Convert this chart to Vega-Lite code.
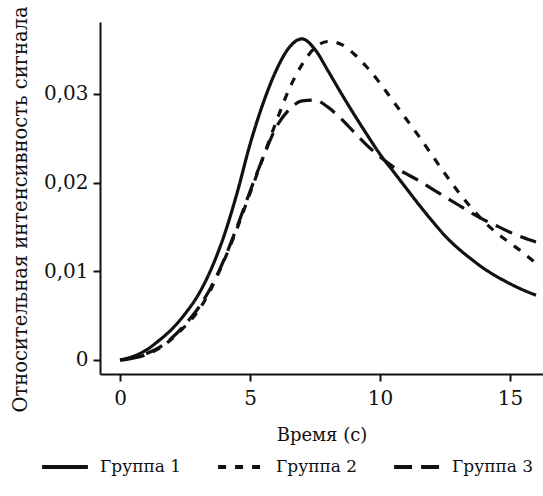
{
  "$schema": "https://vega.github.io/schema/vega-lite/v6.json",
  "width": 443,
  "height": 352,
  "autosize": {"type": "none"},
  "padding": {"left": 100, "top": 22, "right": 0, "bottom": 122},
  "background": "white",
  "config": {
    "view": {"stroke": null},
    "axis": {
      "grid": false,
      "domainColor": "#111",
      "domainWidth": 2,
      "tickColor": "#111",
      "tickWidth": 2,
      "tickSize": 7,
      "labelFont": "DejaVu Serif",
      "labelFontSize": 20,
      "labelColor": "#111",
      "titleFont": "DejaVu Serif",
      "titleFontSize": 18,
      "titleFontWeight": "normal",
      "titleColor": "#111"
    },
    "legend": {
      "labelFont": "DejaVu Serif",
      "labelFontSize": 17,
      "labelColor": "#111"
    }
  },
  "data": {
    "values": [
      {"t": 0, "v": 0, "g": "Группа 1"},
      {"t": 0.5, "v": 0.0004, "g": "Группа 1"},
      {"t": 1, "v": 0.0011, "g": "Группа 1"},
      {"t": 1.5, "v": 0.0022, "g": "Группа 1"},
      {"t": 2, "v": 0.0035, "g": "Группа 1"},
      {"t": 2.5, "v": 0.0052, "g": "Группа 1"},
      {"t": 3, "v": 0.0073, "g": "Группа 1"},
      {"t": 3.5, "v": 0.0102, "g": "Группа 1"},
      {"t": 4, "v": 0.0140, "g": "Группа 1"},
      {"t": 4.5, "v": 0.0188, "g": "Группа 1"},
      {"t": 5, "v": 0.0243, "g": "Группа 1"},
      {"t": 5.5, "v": 0.0289, "g": "Группа 1"},
      {"t": 6, "v": 0.0326, "g": "Группа 1"},
      {"t": 6.5, "v": 0.0352, "g": "Группа 1"},
      {"t": 7, "v": 0.0362, "g": "Группа 1"},
      {"t": 7.5, "v": 0.0350, "g": "Группа 1"},
      {"t": 8, "v": 0.0326, "g": "Группа 1"},
      {"t": 8.5, "v": 0.0301, "g": "Группа 1"},
      {"t": 9, "v": 0.0277, "g": "Группа 1"},
      {"t": 9.5, "v": 0.0254, "g": "Группа 1"},
      {"t": 10, "v": 0.0232, "g": "Группа 1"},
      {"t": 10.5, "v": 0.0213, "g": "Группа 1"},
      {"t": 11, "v": 0.0194, "g": "Группа 1"},
      {"t": 11.5, "v": 0.0175, "g": "Группа 1"},
      {"t": 12, "v": 0.0157, "g": "Группа 1"},
      {"t": 12.5, "v": 0.0140, "g": "Группа 1"},
      {"t": 13, "v": 0.0126, "g": "Группа 1"},
      {"t": 13.5, "v": 0.0114, "g": "Группа 1"},
      {"t": 14, "v": 0.0103, "g": "Группа 1"},
      {"t": 14.5, "v": 0.0094, "g": "Группа 1"},
      {"t": 15, "v": 0.0086, "g": "Группа 1"},
      {"t": 15.5, "v": 0.0079, "g": "Группа 1"},
      {"t": 16, "v": 0.0073, "g": "Группа 1"},
      {"t": 0, "v": 0, "g": "Группа 2"},
      {"t": 0.5, "v": 0.0002, "g": "Группа 2"},
      {"t": 1, "v": 0.0006, "g": "Группа 2"},
      {"t": 1.5, "v": 0.0013, "g": "Группа 2"},
      {"t": 2, "v": 0.0024, "g": "Группа 2"},
      {"t": 2.5, "v": 0.0038, "g": "Группа 2"},
      {"t": 3, "v": 0.0055, "g": "Группа 2"},
      {"t": 3.5, "v": 0.0080, "g": "Группа 2"},
      {"t": 4, "v": 0.0112, "g": "Группа 2"},
      {"t": 4.5, "v": 0.0148, "g": "Группа 2"},
      {"t": 5, "v": 0.0188, "g": "Группа 2"},
      {"t": 5.5, "v": 0.0228, "g": "Группа 2"},
      {"t": 6, "v": 0.0268, "g": "Группа 2"},
      {"t": 6.5, "v": 0.0305, "g": "Группа 2"},
      {"t": 7, "v": 0.0333, "g": "Группа 2"},
      {"t": 7.5, "v": 0.0352, "g": "Группа 2"},
      {"t": 8, "v": 0.0359, "g": "Группа 2"},
      {"t": 8.5, "v": 0.0356, "g": "Группа 2"},
      {"t": 9, "v": 0.0345, "g": "Группа 2"},
      {"t": 9.5, "v": 0.0330, "g": "Группа 2"},
      {"t": 10, "v": 0.0312, "g": "Группа 2"},
      {"t": 10.5, "v": 0.0292, "g": "Группа 2"},
      {"t": 11, "v": 0.0272, "g": "Группа 2"},
      {"t": 11.5, "v": 0.0252, "g": "Группа 2"},
      {"t": 12, "v": 0.0231, "g": "Группа 2"},
      {"t": 12.5, "v": 0.0210, "g": "Группа 2"},
      {"t": 13, "v": 0.0190, "g": "Группа 2"},
      {"t": 13.5, "v": 0.0172, "g": "Группа 2"},
      {"t": 14, "v": 0.0156, "g": "Группа 2"},
      {"t": 14.5, "v": 0.0143, "g": "Группа 2"},
      {"t": 15, "v": 0.0132, "g": "Группа 2"},
      {"t": 15.5, "v": 0.0121, "g": "Группа 2"},
      {"t": 16, "v": 0.0109, "g": "Группа 2"},
      {"t": 0, "v": 0, "g": "Группа 3"},
      {"t": 0.5, "v": 0.0002, "g": "Группа 3"},
      {"t": 1, "v": 0.0007, "g": "Группа 3"},
      {"t": 1.5, "v": 0.0014, "g": "Группа 3"},
      {"t": 2, "v": 0.0025, "g": "Группа 3"},
      {"t": 2.5, "v": 0.0040, "g": "Группа 3"},
      {"t": 3, "v": 0.0058, "g": "Группа 3"},
      {"t": 3.5, "v": 0.0082, "g": "Группа 3"},
      {"t": 4, "v": 0.0113, "g": "Группа 3"},
      {"t": 4.5, "v": 0.0150, "g": "Группа 3"},
      {"t": 5, "v": 0.0190, "g": "Группа 3"},
      {"t": 5.5, "v": 0.0228, "g": "Группа 3"},
      {"t": 6, "v": 0.0262, "g": "Группа 3"},
      {"t": 6.5, "v": 0.0282, "g": "Группа 3"},
      {"t": 7, "v": 0.0292, "g": "Группа 3"},
      {"t": 7.5, "v": 0.0293, "g": "Группа 3"},
      {"t": 8, "v": 0.0285, "g": "Группа 3"},
      {"t": 8.5, "v": 0.0272, "g": "Группа 3"},
      {"t": 9, "v": 0.0257, "g": "Группа 3"},
      {"t": 9.5, "v": 0.0242, "g": "Группа 3"},
      {"t": 10, "v": 0.0229, "g": "Группа 3"},
      {"t": 10.5, "v": 0.0218, "g": "Группа 3"},
      {"t": 11, "v": 0.0210, "g": "Группа 3"},
      {"t": 11.5, "v": 0.0202, "g": "Группа 3"},
      {"t": 12, "v": 0.0193, "g": "Группа 3"},
      {"t": 12.5, "v": 0.0184, "g": "Группа 3"},
      {"t": 13, "v": 0.0175, "g": "Группа 3"},
      {"t": 13.5, "v": 0.0166, "g": "Группа 3"},
      {"t": 14, "v": 0.0158, "g": "Группа 3"},
      {"t": 14.5, "v": 0.0151, "g": "Группа 3"},
      {"t": 15, "v": 0.0144, "g": "Группа 3"},
      {"t": 15.5, "v": 0.0138, "g": "Группа 3"},
      {"t": 16, "v": 0.0133, "g": "Группа 3"}
    ]
  },
  "mark": {"type": "line", "interpolate": "monotone", "strokeWidth": 3.2, "color": "#111"},
  "encoding": {
    "x": {
      "field": "t",
      "type": "quantitative",
      "scale": {"domain": [-0.77, 16.27], "nice": false, "zero": false},
      "axis": {"values": [0, 5, 10, 15], "title": "Время (с)", "labelPadding": 7, "titlePadding": 18}
    },
    "y": {
      "field": "v",
      "type": "quantitative",
      "scale": {"domain": [-0.00158, 0.0381], "nice": false, "zero": false},
      "axis": {
        "values": [0, 0.01, 0.02, 0.03],
        "labelExpr": "datum.value == 0 ? '0' : replace(format(datum.value, '.2f'), '.', ',')",
        "labelPadding": 5,
        "title": "Относительная интенсивность сигнала",
        "titleFontSize": 19.5,
        "titleX": -80,
        "titleY": 187,
        "titleAngle": 270,
        "titleAlign": "center",
        "titleBaseline": "middle"
      }
    },
    "strokeDash": {
      "field": "g",
      "type": "nominal",
      "scale": {"domain": ["Группа 1", "Группа 2", "Группа 3"], "range": [[1, 0], [8, 9], [18, 9]]},
      "legend": {
        "title": null,
        "orient": "none",
        "direction": "horizontal",
        "legendX": -60,
        "legendY": 420,
        "symbolType": "stroke",
        "symbolStrokeWidth": 4,
        "symbolStrokeColor": "#111",
        "symbolSize": 2100,
        "labelOffset": 10,
        "columnPadding": 28
      }
    }
  }
}
